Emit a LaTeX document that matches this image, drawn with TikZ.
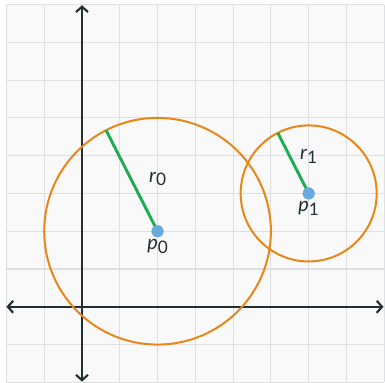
\documentclass[tikz,border=0pt]{standalone}
\usepackage{fontspec}
\setmainfont{Lato}
\usepackage{xcolor}
\usepackage{tikz}
\usetikzlibrary{positioning, arrows.meta, calc}
\definecolor{AxisSlate}{RGB}{33,47,51}
\definecolor{GridGray}{RGB}{222,223,224}
\definecolor{PaperGray}{RGB}{249,249,249}
\definecolor{RingOrange}{RGB}{232,134,26}
\definecolor{RadiusGreen}{RGB}{31,171,84}
\definecolor{DotBlue}{RGB}{104,170,222}
\tikzset{
  axis/.style={AxisSlate, line width=1.6pt, {Straight Barb[length=4pt,width=9pt]}-{Straight Barb[length=4pt,width=9pt]}},
  ring/.style={RingOrange, line width=1.5pt},
  radius/.style={RadiusGreen, line width=2.2pt},
  centre/.style={circle, fill=DotBlue, inner sep=0pt, minimum size=9pt},
  lbl/.style={AxisSlate, font=\fontsize{15}{17}\selectfont, inner sep=1pt}
}
\newcommand{\ptlabel}[2]{\textit{#1}\raisebox{-0.35ex}{\fontsize{13}{15}\selectfont #2}}
\begin{document}
\begin{tikzpicture}
        \useasboundingbox (-2.17,-2.01) rectangle (8.02,8.12);
        \fill[white] (-2.17,-2.01) rectangle (8.02,8.12);
        \fill[PaperGray] (-2,-2) rectangle (8,8);
        \draw[GridGray, line width=0.8pt] (-2,-2) grid (8,8);
        % axes
        \draw[axis] (-2,0) -- (7.98,0);
        \draw[axis] (0,-1.98) -- (0,7.98);
        % circles
        \node[centre] (p0) at (2,2) {};
        \node[centre] (p1) at (6,3) {};
        \draw[ring] (p0.center) circle (3);
        \draw[ring] (p1.center) circle (1.8);
        \coordinate (e0) at ($(2,2)+(117:3)$);
        \coordinate (e1) at ($(6,3)+(117:1.8)$);
        \draw[radius] (p0.center) -- (e0);
        \draw[radius] (p1.center) -- (e1);
        \node[centre] at (p0) {};
        \node[centre] at (p1) {};
        % labels
        \node[lbl] (r0lbl) at (2,3.38) {\ptlabel{r}{0}};
        \node[lbl] (p0lbl) at (2,1.6) {\ptlabel{p}{0}};
        \node[lbl] (r1lbl) at (6,3.98) {\ptlabel{r}{1}};
        \node[lbl] (p1lbl) at (6,2.6) {\ptlabel{p}{1}};
      \end{tikzpicture}
\end{document}
